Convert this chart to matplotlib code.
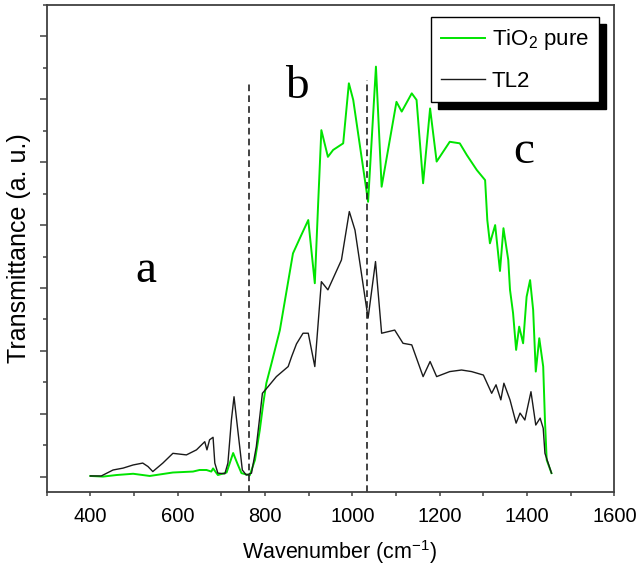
import matplotlib
matplotlib.use('Agg')

import matplotlib.pyplot as plt
from matplotlib.ticker import MultipleLocator, NullFormatter

# FTIR spectra (y in arbitrary units)
tio2_wn = [400, 429, 460, 498, 536, 589, 635, 650, 666, 677, 681, 692, 712, 727,
           738, 746, 765, 777, 788, 796, 803, 815, 834, 864, 880, 899, 914, 922,
           929, 944, 956, 979, 992, 1002, 1036, 1054, 1067, 1101, 1113, 1136,
           1147, 1162, 1178, 1193, 1223, 1246, 1262, 1285, 1304, 1309, 1315,
           1327, 1338, 1346, 1357, 1361, 1368, 1375, 1382, 1391, 1399, 1407,
           1414, 1420, 1428, 1437, 1441, 1445, 1456]
tio2_t = [0.02, 0.00, 0.05, 0.09, 0.02, 0.13, 0.16, 0.21, 0.21, 0.16, 0.26, 0.05,
          0.13, 0.75, 0.37, 0.11, 0.04, 0.53, 1.48, 2.33, 2.97, 3.61, 4.66, 7.10,
          7.59, 8.16, 6.15, 8.80, 11.02, 10.17, 10.39, 10.60, 12.51, 11.98, 8.74,
          13.04, 9.22, 11.92, 11.61, 12.19, 11.98, 9.33, 11.71, 10.02, 10.65,
          10.60, 10.23, 9.75, 9.43, 8.16, 7.42, 8.00, 6.54, 7.90, 6.89, 5.94,
          5.20, 4.03, 4.77, 4.24, 5.72, 6.25, 5.30, 3.34, 4.40, 3.50, 1.80, 0.53,
          0.11]

tl2_wn = [400, 425, 452, 475, 498, 520, 532, 543, 566, 589, 620, 643, 662, 667,
          673, 681, 685, 692, 708, 715, 723, 729, 735, 742, 748, 757, 769, 780,
          788, 794, 807, 826, 853, 861, 872, 887, 899, 914, 929, 944, 975, 993,
          1006, 1036, 1053, 1067, 1097, 1116, 1136, 1162, 1178, 1193, 1223,
          1250, 1273, 1300, 1319, 1329, 1340, 1347, 1361, 1375, 1384, 1395,
          1409, 1420, 1430, 1437, 1441, 1456]
tl2_t = [0.02, 0.02, 0.21, 0.27, 0.37, 0.43, 0.32, 0.16, 0.43, 0.74, 0.69, 0.85,
         1.11, 0.85, 1.17, 1.25, 0.43, 0.11, 0.09, 0.43, 1.80, 2.54, 1.80, 0.95,
         0.21, 0.05, 0.11, 0.95, 1.91, 2.65, 2.86, 3.18, 3.50, 3.82, 4.22, 4.56,
         4.56, 3.50, 6.20, 5.94, 6.89, 8.43, 7.84, 5.04, 6.84, 4.56, 4.66, 4.24,
         4.19, 3.18, 3.66, 3.18, 3.34, 3.39, 3.34, 3.23, 2.65, 2.92, 2.44, 2.97,
         2.44, 1.70, 2.02, 1.80, 2.70, 1.64, 1.86, 1.54, 0.74, 0.11]

# region boundaries and labels
region_lines = [763, 1034]
region_tops = [12.55, 12.62]
region_labels = ['a', 'b', 'c']
region_label_x = [528, 873, 1393]
region_label_y = [6.18, 12.05, 9.96]

plt.rcParams['font.family'] = ['Liberation Sans', 'DejaVu Sans']
plt.rcParams['mathtext.fontset'] = 'custom'
plt.rcParams['mathtext.rm'] = 'Liberation Sans'

fig = plt.figure(figsize=(6.36, 5.75), dpi=100)
ax = fig.add_axes([0.0734, 0.1449, 0.8926, 0.8464])

ax.plot(tio2_wn, tio2_t, color='#00e400', lw=1.4, label='TiO$_2$ pure')
ax.plot(tl2_wn, tl2_t, color='#1a1a1a', lw=1.0, label='TL2')

ymin = -0.48
for x, top in zip(region_lines, region_tops):
    ax.vlines(x, ymin, top, colors='#222222', linestyles=(0, (4, 2.5)), lw=1.2)

for lab, x, y in zip(region_labels, region_label_x, region_label_y):
    ax.text(x, y, lab, fontsize=34, family='Liberation Serif',
            ha='center', va='baseline')

ax.set_xlim(300, 1600)
ax.set_ylim(ymin, 15.0)

ax.xaxis.set_major_locator(MultipleLocator(200))
ax.xaxis.set_minor_locator(MultipleLocator(100))
ax.yaxis.set_major_locator(MultipleLocator(2))
ax.yaxis.set_minor_locator(MultipleLocator(1))
ax.yaxis.set_major_formatter(NullFormatter())

ax.tick_params(axis='x', which='both', direction='out', length=3, width=1.1,
               color='#404040', labelsize=14.5, pad=8)
ax.tick_params(axis='y', which='major', direction='out', length=5, width=1.1,
               color='#404040')
ax.tick_params(axis='y', which='minor', direction='out', length=3, width=1.1,
               color='#404040')
for s in ax.spines.values():
    s.set_linewidth(1.3)
    s.set_color('#404040')

ax.set_xlabel('Wavenumber (cm$^{-1}$)', fontsize=15.5, labelpad=6)
ax.xaxis.set_label_coords(0.517, -0.095)
ax.set_ylabel('Transmittance (a. u.)', fontsize=18, labelpad=3)

leg = ax.legend(loc='upper left', bbox_to_anchor=(0.6765, 0.9747),
                borderaxespad=0, fontsize=16, frameon=True, fancybox=False,
                framealpha=1, edgecolor='black', handlelength=2.0,
                handletextpad=0.3, labelspacing=0.85, borderpad=0.45,
                shadow={'ox': 5, 'oy': -5, 'color': 'black', 'alpha': 1})
leg.get_frame().set_linewidth(1.0)

fig.savefig('out.png', dpi=100)
